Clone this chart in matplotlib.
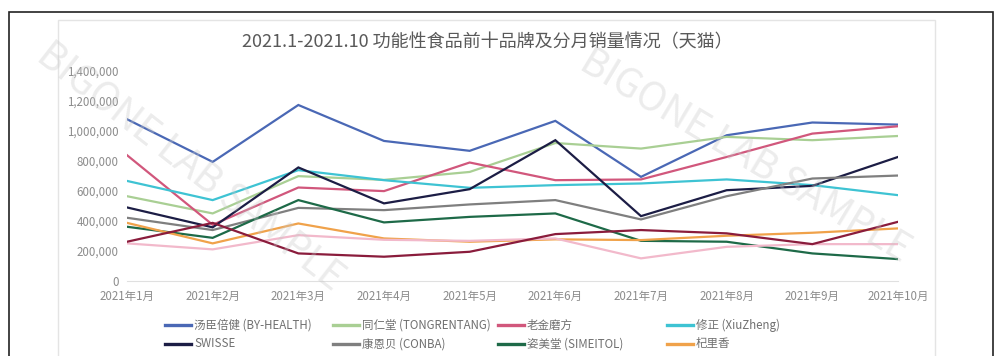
import matplotlib.pyplot as plt
from matplotlib.patches import Rectangle
from matplotlib.lines import Line2D

plt.rcParams['font.family'] = ['Noto Sans CJK SC', 'DejaVu Sans']

months = ['2021年1月', '2021年2月', '2021年3月', '2021年4月', '2021年5月',
          '2021年6月', '2021年7月', '2021年8月', '2021年9月', '2021年10月']

# monthly sales per brand
by_health = [1077000, 792000, 1172000, 932000, 866000, 1066000, 692000, 970000, 1055000, 1041000]
tongrentang = [563000, 448000, 697000, 672000, 725000, 918000, 881000, 959000, 937000, 965000]
laojin = [837000, 372000, 621000, 597000, 788000, 670000, 675000, 825000, 981000, 1030000]
xiuzheng = [665000, 537000, 737000, 670000, 619000, 637000, 648000, 675000, 637000, 570000]
swisse = [488000, 355000, 755000, 515000, 610000, 937000, 430000, 603000, 632000, 825000]
conba = [419000, 337000, 485000, 470000, 508000, 537000, 408000, 563000, 681000, 701000]
simeitol = [359000, 285000, 537000, 388000, 425000, 448000, 265000, 259000, 181000, 143000]
qilixiang = [385000, 248000, 381000, 281000, 259000, 275000, 270000, 299000, 319000, 348000]
# two more series whose legend rows are cut off in the picture
unnamed_pink = [248000, 208000, 303000, 272000, 265000, 281000, 148000, 225000, 243000, 243000]
unnamed_maroon = [259000, 385000, 181000, 159000, 192000, 310000, 337000, 315000, 243000, 392000]

series = [
    ('汤臣倍健 (BY-HEALTH)', by_health, '#4a68b5'),
    ('同仁堂 (TONGRENTANG)', tongrentang, '#a9cf94'),
    ('老金磨方', laojin, '#d1577c'),
    ('修正 (XiuZheng)', xiuzheng, '#3ec3d3'),
    ('SWISSE', swisse, '#1c1d45'),
    ('康恩贝 (CONBA)', conba, '#7f7f7f'),
    ('姿美堂 (SIMEITOL)', simeitol, '#1e6a48'),
    ('杞里香', qilixiang, '#f0a24a'),
    (None, unnamed_pink, '#f2b9cb'),
    (None, unnamed_maroon, '#8a1c3c'),
]

fig = plt.figure(figsize=(10, 3.56), dpi=100)

# outer black frame and inner light frame
fig.patches.append(Rectangle((0.009, -0.1), 0.984, 1.067, transform=fig.transFigure,
                             fill=False, edgecolor='#222222', linewidth=1.2))
fig.patches.append(Rectangle((0.058, -0.1), 0.877, 1.044, transform=fig.transFigure,
                             fill=False, edgecolor='#e4e4e4', linewidth=1.0))

ax = fig.add_axes([0.127, 0.212, 0.771, 0.589])
x = list(range(len(months)))
for name, vals, color in series:
    ax.plot(x, vals, color=color, linewidth=1.6, solid_joinstyle='miter')

ax.set_xlim(0, 9)
ax.set_ylim(0, 1400000)
ax.set_yticks(range(0, 1400001, 200000))
ax.set_yticklabels([f'{v:,}' for v in range(0, 1400001, 200000)])
ax.set_xticks(x)
ax.set_xticklabels(months)
ax.tick_params(axis='both', length=0, labelsize=8.3, colors='#8c8c8c', pad=6)
ax.tick_params(axis='x', pad=7)
for s in ['top', 'right', 'left']:
    ax.spines[s].set_visible(False)
ax.spines['bottom'].set_color('#e0e0e0')
ax.patch.set_alpha(0)

fig.text(0.487, 0.882, '2021.1-2021.10 功能性食品前十品牌及分月销量情况（天猫）',
         ha='center', va='center', fontsize=13, color='#595959')

# legend: four fixed-width columns, two visible rows
col_x = [0.165, 0.333, 0.498, 0.667]
row_y = [0.087, 0.034]
for i, (name, vals, color) in enumerate(series[:8]):
    r, c = divmod(i, 4)
    y = row_y[r]
    fig.lines.append(Line2D([col_x[c], col_x[c] + 0.026], [y, y], transform=fig.transFigure,
                            color=color, linewidth=2.4))
    fig.text(col_x[c] + 0.029, y, name, ha='left', va='center', fontsize=8.3, color='#707070')

# watermarks
fig.text(0.19, 0.53, 'BIGONE LAB SAMPLE', rotation=-38, ha='center', va='center',
         fontsize=28, color='#c8c8c8', alpha=0.35, zorder=10)
fig.text(0.745, 0.56, 'BIGONE LAB SAMPLE', rotation=-31, ha='center', va='center',
         fontsize=28, color='#c8c8c8', alpha=0.35, zorder=10)

fig.savefig('out.png', dpi=100)
